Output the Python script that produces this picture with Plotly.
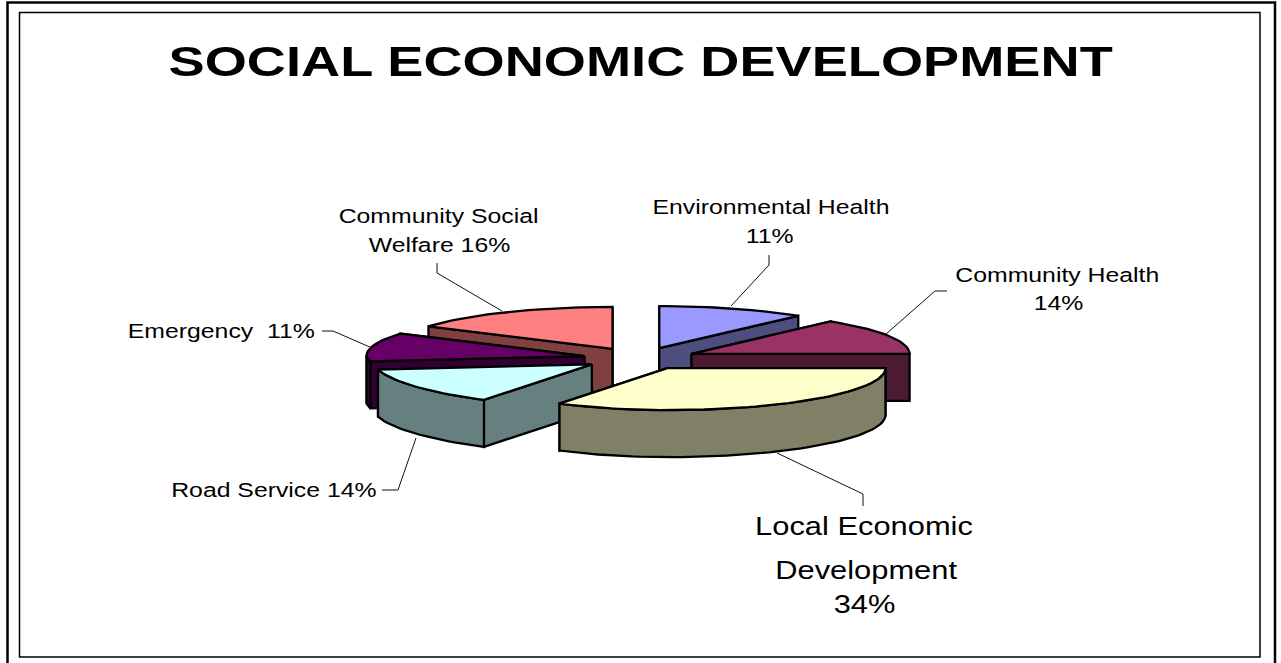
import math
import plotly.graph_objects as go

# Share of each service area, clockwise from twelve o'clock
categories = ["Environmental Health", "Community Health", "Local Economic Development",
              "Road Service", "Emergency", "Community Social Welfare"]
shares = [11, 14, 34, 14, 11, 16]
top_colors = ["#9999FF", "#993366", "#FFFFCC", "#CCFFFF", "#660066", "#FF8080"]
side_colors = ["#4D4D80", "#4D1A33", "#808066", "#668080", "#330033", "#804040"]

chart_title = "SOCIAL ECONOMIC DEVELOPMENT"

# Label lines: text, centre x, centre y, font size
label_lines = [
    ("Community Social", 438, 215, 20.5),
    ("Welfare 16%", 439.5, 244, 20.5),
    ("Environmental Health", 771, 206, 20.5),
    ("11%", 770, 235, 20.5),
    ("Community Health", 1057, 274, 20.5),
    ("14%", 1058.5, 302, 20.5),
    ("Emergency\u00a0 11%", 221, 330, 20.5),
    ("Road Service 14%", 273.5, 489, 20.5),
    ("Local Economic", 864, 526, 25.5),
    ("Development", 866, 570, 25.5),
    ("34%", 864, 604, 25.5),
]

# Leader line paths joining the labels to their slices
leaders = [
    [(502, 311), (437, 273), (437, 263)],
    [(731, 306), (769, 265), (769, 255)],
    [(886, 334), (935, 291), (947, 291)],
    [(372, 348), (333, 331), (322, 331)],
    [(416, 438), (398, 490), (382, 490)],
    [(777, 453), (863, 494), (863, 506)],
]

# Pie projection, in pixels
CX, CY = 640, 358.5
RX, RY = 218, 42
EXPLODE = 57
DEPTH = 47
LEFT_FRONT_SQUEEZE = 0.09  # the lower-left of the rim is drawn slightly narrower


def rim(cx, cy, deg):
    a = math.radians(deg)
    sin_a, cos_a = math.sin(a), math.cos(a)
    scale = 1 - LEFT_FRONT_SQUEEZE * max(0.0, -cos_a) if sin_a < 0 else 1
    return cx + RX * sin_a * scale, cy - RY * cos_a


def arc(cx, cy, start, end, step=2.0):
    n = max(1, int(abs(end - start) / step))
    return [rim(cx, cy, start + (end - start) * i / n) for i in range(n + 1)]


slices = []
angle = 0.0
total = sum(shares)
for name, share, top, side in zip(categories, shares, top_colors, side_colors):
    sweep = 360.0 * share / total
    mid = math.radians(angle + sweep / 2)
    ax = CX + EXPLODE * math.sin(mid)
    ay = CY - EXPLODE * RY / RX * math.cos(mid)
    slices.append(dict(name=name, start=angle, end=angle + sweep, ax=ax, ay=ay, top=top, side=side))
    angle += sweep

fig = go.Figure()


def add_poly(points, fill, name):
    xs = [p[0] for p in points] + [points[0][0]]
    ys = [p[1] for p in points] + [points[0][1]]
    fig.add_trace(go.Scatter(x=xs, y=ys, mode="lines", fill="toself", fillcolor=fill,
                             line=dict(color="#000000", width=2.3), name=name,
                             hoverinfo="skip", showlegend=False))


# Painter's order: the slices whose apex sits highest are furthest back
for s in sorted(slices, key=lambda d: d["ay"]):
    ax, ay = s["ax"], s["ay"]
    walls = []
    for deg in (s["start"], s["end"]):
        px, py = rim(ax, ay, deg)
        walls.append(((ay + py) / 2, [(ax, ay), (px, py), (px, py + DEPTH), (ax, ay + DEPTH)]))
    for _, wall in sorted(walls, key=lambda w: w[0]):
        add_poly(wall, s["side"], s["name"])
    # Only the part of the rim between 90 and 270 degrees faces the viewer
    lo, hi = max(s["start"], 90), min(s["end"], 270)
    if hi > lo:
        upper = arc(ax, ay, lo, hi)
        lower = [(x, y + DEPTH) for x, y in reversed(upper)]
        add_poly(upper + lower, s["side"], s["name"])
    add_poly([(ax, ay)] + arc(ax, ay, s["start"], s["end"]), s["top"], s["name"])

shapes = [
    dict(type="rect", x0=7.5, y0=2.5, x1=1275, y1=675, line=dict(color="#000000", width=2.5)),
    dict(type="rect", x0=19.5, y0=12.5, x1=1260, y1=657, line=dict(color="#000000", width=1.5)),
]
for path in leaders:
    d = "M " + " L ".join(f"{x} {y}" for x, y in path)
    shapes.append(dict(type="path", path=d, line=dict(color="#111111", width=1)))

annotations = [dict(x=640, y=61, text=f"<b>{chart_title}</b>", showarrow=False,
                    xanchor="center", yanchor="middle",
                    font=dict(family="Liberation Sans", size=43, color="#000000"))]
for text, x, y, size in label_lines:
    annotations.append(dict(x=x, y=y, text=text, showarrow=False, xanchor="center", yanchor="middle",
                            font=dict(family="Liberation Sans", size=size, color="#000000")))

fig.update_layout(
    width=1281, height=663, margin=dict(l=0, r=0, t=0, b=0),
    paper_bgcolor="#FFFFFF", plot_bgcolor="#FFFFFF", showlegend=False,
    xaxis=dict(range=[0, 1281], visible=False, fixedrange=True),
    yaxis=dict(range=[663, 0], visible=False, fixedrange=True),
    shapes=shapes, annotations=annotations,
)

# The lettering is set wide, so stretch each text element about its own centre
widen = ("var s=document.createElement('style');"
         "s.textContent='.annotation-text{transform-box:fill-box;transform-origin:center;transform:scaleX(1.21)}"
         ".annotation[data-index=\"0\"] .annotation-text{transform:scaleX(1.26)}';"
         "document.head.appendChild(s);")
fig.write_html("out.html", config={"displayModeBar": False}, post_script=widen)
